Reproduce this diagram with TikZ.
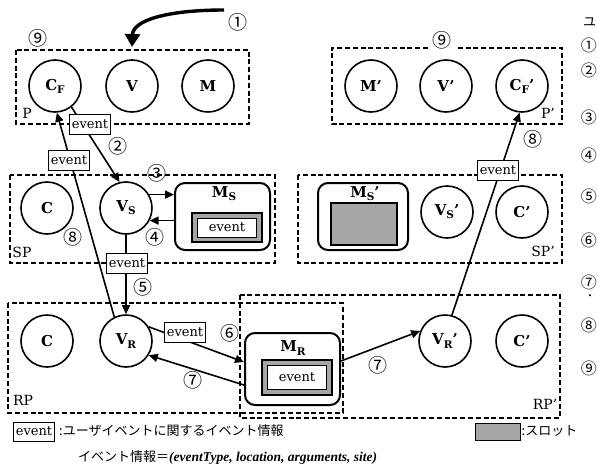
\documentclass[tikz,border=0pt]{standalone}
\usepackage{fontspec}
\setmainfont{DejaVu Serif}
\newfontfamily\jpfont{Noto Sans CJK JP}
\newfontfamily\tupfont{Liberation Serif}
\usetikzlibrary{arrows.meta}

% small lowered index letter, as in C_F, V_S, M_R
\newcommand\lowidx[1]{\raisebox{-0.4ex}{\fontsize{10.5}{11}\selectfont #1}}

\begin{document}
\begin{tikzpicture}[x=1pt,y=-1pt,
  area/.style={draw, line width=1.2pt, dash pattern=on 5pt off 2.8pt},
  obj/.style={circle, draw, line width=1.6pt, minimum size=52pt, inner sep=0pt,
    font=\bfseries\fontsize{15}{17}\selectfont},
  membox/.style={draw, line width=2pt, rounded corners=10pt},
  memlabel/.style={font=\bfseries\fontsize{15}{17}\selectfont, inner sep=0pt},
  slot/.style={draw, line width=1.8pt, fill=black!35, inner sep=0pt},
  slotin/.style={draw, fill=white, line width=0.6pt, inner sep=0pt,
    font=\fontsize{13}{15}\selectfont},
  evt/.style={draw, fill=white, line width=0.9pt, inner xsep=2.5pt, inner ysep=0pt,
    minimum height=20pt, font=\fontsize{13}{15}\selectfont},
  flow/.style={line width=1.6pt, -{Triangle[length=9pt,width=8pt]}},
  num/.style={font=\jpfont\fontsize{19}{20}\selectfont, inner sep=0pt},
  sidenum/.style={font=\jpfont\fontsize{16}{17}\selectfont, inner sep=0pt, anchor=east},
  tag/.style={font=\fontsize{14}{16}\selectfont, inner sep=0pt},
  jp/.style={font=\jpfont\fontsize{13}{15}\selectfont, inner sep=0pt, anchor=west}
]
\useasboundingbox (0,0) rectangle (597,466);

% ---- process areas ----
\draw[area] (16,50) rectangle (249,124);
\draw[area] (428,48) -- (332,48) -- (332,124) -- (562,124) -- (562,48) -- (457,48);
\draw[area] (10,175) rectangle (275,263);
\draw[area] (298,175) rectangle (562,263);
\draw[area] (8,303) rectangle (343,413);
\draw[area] (240,295) rectangle (560,418);

\node[tag] (lP)   at (27,113)  {P};
\node[tag] (lPp)  at (548,113) {P'};
\node[tag] (lSP)  at (22,252)  {SP};
\node[tag] (lSPp) at (543,251) {SP'};
\node[tag] (lRP)  at (23,400)  {RP};
\node[tag] (lRPp) at (545,404) {RP'};

% ---- objects of P and P' ----
\node[obj] (CF)  at (55,86)  {C\lowidx{F}};
\node[obj] (V)   at (132,86) {V};
\node[obj] (M)   at (208,86) {M};
\node[obj] (Mp)  at (371,86) {M'};
\node[obj] (Vp)  at (446,86) {V'};
\node[obj] (CFp) at (522,86) {C\lowidx{F}'};

% ---- objects of SP and SP' ----
\node[obj] (C1)  at (47,208)  {C};
\node[obj] (VS)  at (126,208) {V\lowidx{S}};
\node[membox, minimum width=95pt, minimum height=67pt] (MS) at (222.5,216.5) {};
\node[memlabel] (MSl) at (224,194) {M\lowidx{S}};
\node[slot, minimum width=70pt, minimum height=29pt] (MSslot) at (227,227.5) {};
\node[slotin, minimum width=59pt, minimum height=19pt] (MSev) at (MSslot) {event};

\node[membox, minimum width=90pt, minimum height=67pt] (MSp) at (363,216.5) {};
\node[memlabel] (MSpl) at (365,194) {M\lowidx{S}'};
\node[slot, minimum width=66pt, minimum height=42pt] (MSpslot) at (364,224) {};
\node[obj] (VSp) at (447,212) {V\lowidx{S}'};
\node[obj] (Cp1) at (522,212) {C'};

% ---- objects of RP and RP' ----
\node[obj] (C2)  at (47,341)  {C};
\node[obj] (VR)  at (126,341) {V\lowidx{R}};
\node[membox, minimum width=95pt, minimum height=72pt] (MR) at (292.5,369) {};
\node[memlabel] (MRl) at (293,348) {M\lowidx{R}};
\node[slot, minimum width=70pt, minimum height=35pt] (MRslot) at (297,377.5) {};
\node[slotin, minimum width=59pt, minimum height=24pt] (MRev) at (MRslot) {event};
\node[obj] (VRp) at (445,341) {V\lowidx{R}'};
\node[obj] (Cp2) at (522,341) {C'};

% ---- event flow ----
\coordinate (u1) at (224,10);
\coordinate (u2) at (132,47);
\draw[line width=3.4pt, -{Triangle[length=13pt,width=15pt]}]
  (u1) .. controls (168,10) and (133,20) .. (u2);

\draw[flow] (CF.-52) -- (VS.104);
\draw[flow] (VS.30) -- (VS.30 -| MS.west);
\draw[flow] (MS.west |- VS.-28) -- (VS.-28);
\draw[flow] (VS.south) -- (VR.north);
\draw[flow] (VR.116) -- (CF.-86);
\draw[flow] (VR.32) -- (MR.west |- 0,362);
\draw[flow] (MR.west |- 0,385) -- (VR.-32);
\draw[flow] (MR.east |- 0,361) -- (VRp.158);
\draw[flow] (VRp.75) -- (CFp.-95);

\node[evt] (e2) at (90,124)  {event};
\node[evt] (e8) at (69,160)  {event};
\node[evt] (e5) at (127,263) {event};
\node[evt] (e6) at (185,332) {event};
\node[evt] (e8p) at (498,170) {event};

% ---- step numbers ----
\node[num] (n1)  at (238,22)  {①};
\node[num] (n9)  at (38,38)   {⑨};
\node[num] (n9p) at (442,40)  {⑨};
\node[num] (n2)  at (118,146) {②};
\node[num] (n3)  at (157,173) {③};
\node[num] (n4)  at (155,237) {④};
\node[num] (n8)  at (73,237)  {⑧};
\node[num] (n5)  at (143,287) {⑤};
\node[num] (n6)  at (230,333) {⑥};
\node[num] (n7)  at (193,380) {⑦};
\node[num] (n7p) at (378,365) {⑦};
\node[num] (n8p) at (533,139) {⑧};

% ---- legend ----
\node[evt, minimum height=19pt] (lgev) at (34,431.5) {event};
\node[jp] (lgtxt) at (59,431) {:ユーザイベントに関するイベント情報};
\node[jp] (lgtup) at (78,457) {イベント情報＝{\tupfont\bfseries\itshape\fontsize{13.5}{15}\selectfont (eventType, location, arguments, site)}};
\node[slot, line width=1pt, minimum width=45pt, minimum height=17pt] (lgslot) at (497.5,431.5) {};
\node[jp] (lgslottxt) at (521.5,431) {:スロット};

% ---- column of the neighbouring text ----
\node[jp] (r0) at (583,22)  {ユ};
\node[sidenum] (r1) at (597,45)  {①};
\node[sidenum] (r2) at (597,70)  {②};
\node[sidenum] (r3) at (597,117) {③};
\node[sidenum] (r4) at (597,155) {④};
\node[sidenum] (r5) at (597,196) {⑤};
\node[sidenum] (r6) at (597,240) {⑥};
\node[sidenum] (r7) at (597,282) {⑦};
\node[jp, font=\jpfont\fontsize{10}{11}\selectfont] (rd) at (585,297) {・};
\node[sidenum] (r8) at (597,325) {⑧};
\node[sidenum] (r9) at (597,368) {⑨};
\end{tikzpicture}
\end{document}
